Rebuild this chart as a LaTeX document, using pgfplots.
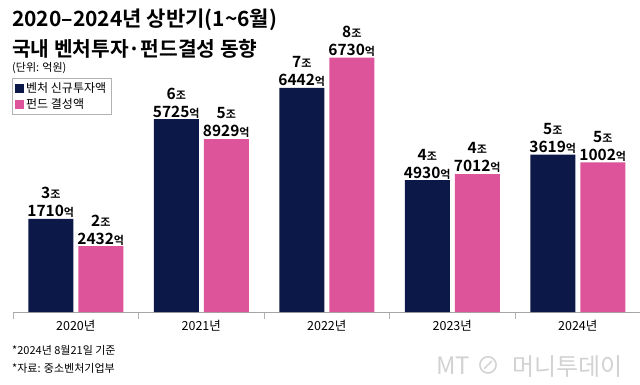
\documentclass[border=0pt]{standalone}
\usepackage{pgfplots}
\pgfplotsset{compat=1.18}
\usepackage{fontspec}
\setmainfont{Noto Sans CJK KR}[BoldFont={Noto Sans CJK KR Bold}]
\definecolor{navy}{RGB}{12,25,72}
\definecolor{pinkc}{RGB}{222,84,154}
\newcommand{\lab}[2]{{\fontsize{15.5}{18}\selectfont\bfseries #1}{\fontsize{11}{18}\selectfont\bfseries 조}\\{\fontsize{15.5}{18}\selectfont\bfseries #2}{\fontsize{11}{18}\selectfont\bfseries 억}}
\begin{document}
\begin{tikzpicture}
\path[use as bounding box, fill=white] (0pt,0pt) rectangle (640pt,384pt);
\node[anchor=base west, inner sep=0] at (12pt,357pt) {\fontsize{21}{24}\selectfont\bfseries 2020–2024년 상반기(1\textasciitilde6월)};
\node[anchor=base west, inner sep=0] at (12pt,328pt) {\fontsize{20.3}{24}\selectfont\bfseries 국내 벤처투자·펀드결성 동향};
\node[anchor=base west, inner sep=0] at (12pt,313pt) {\fontsize{11}{13}\selectfont (단위: 억원)};
\node[anchor=base west, inner sep=0] at (12pt,30pt) {\fontsize{11}{13}\selectfont *2024년 8월21일 기준};
\node[anchor=base west, inner sep=0] at (12pt,12pt) {\fontsize{11}{13}\selectfont *자료: 중소벤처기업부};
\node[anchor=base west, inner sep=0, text=gray!35] at (436pt,10pt) {\fontsize{24}{30}\selectfont\itshape MT};
\node[anchor=base west, inner sep=0, text=gray!35] at (476pt,10pt) {\fontsize{24}{30}\selectfont ⊘};
\node[anchor=base west, inner sep=0, text=gray!35] at (512pt,9pt) {\fontsize{24}{30}\selectfont 머니투데이};
\begin{axis}[
  at={(13pt,72pt)}, anchor=south west,
  scale only axis, width=627.5pt, height=264pt,
  xmin=-0.5, xmax=4.5, ymin=0, ymax=90000,
  axis y line=none, axis x line=bottom,
  x axis line style={gray!70, -},
  xtick={0,1,2,3,4},
  xticklabels={2020년,2021년,2022년,2023년,2024년},
  major tick length=0pt,
  minor xtick={-0.5,0.5,1.5,2.5,3.5,4.5},
  minor tick length=7pt,
  tick align=inside,
  minor tick style={gray!60},
  xticklabel style={font=\fontsize{12.5}{14}\selectfont, yshift=-5pt},
  ybar, bar width=45pt,
  legend style={at={(-0.0016,0.886)}, anchor=north west, draw=gray!60, font=\fontsize{12}{14}\selectfont, inner xsep=3pt, inner ysep=2pt, row sep=1pt},
  legend cell align=left,
  legend image code/.code={\fill[#1] (0pt,-4.5pt) rectangle (9pt,4.5pt);},
  nodes near coords,
  point meta=explicit symbolic,
  every node near coord/.append style={align=center, anchor=south, inner sep=1pt, text=black, font=\fontsize{15.5}{18}\selectfont},
]
\addplot[fill=navy, draw=none, bar shift=-25pt] coordinates {
(0,31710) [\lab{3}{1710}]
(1,65725) [\lab{6}{5725}]
(2,76442) [\lab{7}{6442}]
(3,44930) [\lab{4}{4930}]
(4,53619) [\lab{5}{3619}]
};
\addplot[fill=pinkc, draw=none, bar shift=25pt] coordinates {
(0,22432) [\lab{2}{2432}]
(1,58929) [\lab{5}{8929}]
(2,86730) [\lab{8}{6730}]
(3,47012) [\lab{4}{7012}]
(4,51002) [\lab{5}{1002}]
};
\legend{벤처 신규투자액, 펀드 결성액}
\end{axis}
\end{tikzpicture}
\end{document}
